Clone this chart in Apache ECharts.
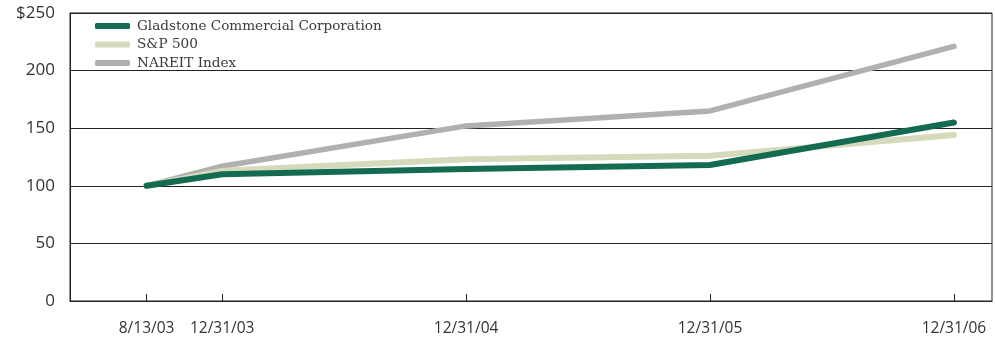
<!DOCTYPE html>
<html><head><meta charset="utf-8">
<script src="https://cdn.jsdelivr.net/npm/echarts@6/dist/echarts.min.js"></script>
<style>html,body{margin:0;padding:0;background:#fff}#c{width:995px;height:339px}</style>
</head><body><div id="c"></div>
<script>
// x positions in years after 12/31/03
const xPositions = [-0.31, 0, 1, 2, 3];
const xLabels = ['8/13/03', '12/31/03', '12/31/04', '12/31/05', '12/31/06'];
const seriesNames = ['Gladstone Commercial Corporation', 'S&P 500', 'NAREIT Index'];
const gladstone = [100, 110, 114.5, 118, 155];
const sp500 = [100, 113, 123, 126, 144];
const nareit = [100, 117, 152, 165, 221];

const pairs = arr => arr.map((v, i) => [xPositions[i], v]);
const labelFor = v => {
  const i = xPositions.findIndex(p => Math.abs(p - v) < 1e-6);
  return i >= 0 ? xLabels[i] : '';
};

const chart = echarts.init(document.getElementById('c'));
chart.setOption({
  animation: false,
  grid: { left: 70, right: 3, top: 13, bottom: 38, show: true, borderColor: '#222', borderWidth: 1 },
  legend: {
    orient: 'vertical', left: 95, top: 19, itemGap: 4.5, padding: 0,
    itemWidth: 35, itemHeight: 6, icon: 'roundRect',
    data: seriesNames,
    textStyle: { fontFamily: 'DejaVu Serif', fontSize: 13.6, color: '#3a3a3a', padding: [0, 0, 0, 2] }
  },
  xAxis: {
    type: 'value', min: -0.624, max: 3.156,
    splitLine: { show: false },
    axisLine: { onZero: false, lineStyle: { color: '#222', width: 1 } },
    axisTick: { show: true, inside: true, length: 7, customValues: xPositions, lineStyle: { color: '#222' } },
    axisLabel: { customValues: xPositions, formatter: labelFor, margin: 20,
      fontFamily: 'Open Sans', fontSize: 15.5, color: '#333' }
  },
  yAxis: {
    type: 'value', min: 0, max: 250, interval: 50,
    axisLine: { show: true, onZero: false, lineStyle: { color: '#222', width: 1 } },
    axisTick: { show: false },
    splitLine: { lineStyle: { color: '#222', width: 1 } },
    axisLabel: { formatter: v => v === 250 ? '$' + v : String(v), margin: 15,
      fontFamily: 'Open Sans', fontSize: 17, color: '#333' }
  },
  series: [
    { name: seriesNames[0], type: 'line', data: pairs(gladstone), showSymbol: false, symbol: 'none', z: 5,
      color: '#156b52', lineStyle: { width: 6, color: '#156b52', cap: 'round', join: 'round' } },
    { name: seriesNames[1], type: 'line', data: pairs(sp500), showSymbol: false, symbol: 'none', z: 4,
      color: '#d4dabb', lineStyle: { width: 6, color: '#d4dabb', cap: 'round', join: 'round' } },
    { name: seriesNames[2], type: 'line', data: pairs(nareit), showSymbol: false, symbol: 'none', z: 3,
      color: '#b0b0b0', lineStyle: { width: 5.5, color: '#b0b0b0', cap: 'round', join: 'round' } }
  ]
});
</script></body></html>
